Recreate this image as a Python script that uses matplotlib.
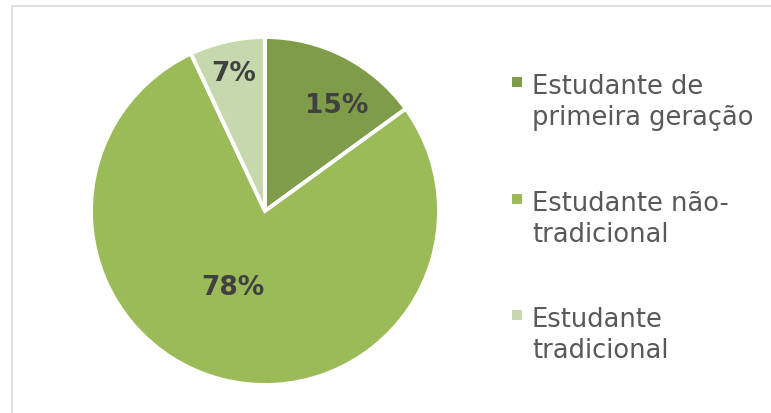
import matplotlib.pyplot as plt
from matplotlib.patches import Rectangle

# data
categories = ["Estudante de\nprimeira geração", "Estudante não-\ntradicional", "Estudante\ntradicional"]
values = [15, 78, 7]
colors = ["#7f9c4a", "#9bbb59", "#c6d8ae"]

plt.rcParams['font.family'] = ['DejaVu Sans']

W, H = 771, 414
fig = plt.figure(figsize=(W / 100, H / 100), dpi=100)

# pie axes: centre (265,212) px, radius 174 px
R = 174
cx, cy = 265, 212
ax = fig.add_axes([(cx - R) / W, (H - cy - R) / H, 2 * R / W, 2 * R / H])
wedges, texts = ax.pie(values, colors=colors, startangle=90, counterclock=False,
                       wedgeprops=dict(edgecolor="white", linewidth=2.8))
ax.set_xlim(-1, 1)
ax.set_ylim(-1, 1)
ax.set_aspect("equal")

# label positions (as placed in the original)
label_pos = [(0.414, 0.609), (-0.184, -0.437), (-0.178, 0.793)]
for v, (x, y) in zip(values, label_pos):
    ax.text(x, y, f"{v}%", ha="center", va="center", fontsize=19,
            fontweight="bold", color="#404040")

# legend drawn by hand so the marker lines up with the first text line
first_base = [93, 210, 326]
line_gap = 32
for lab, col, yb in zip(categories, colors, first_base):
    fig.patches.append(Rectangle((512 / W, (H - yb + 5) / H), 10 / W, 10 / H,
                                 transform=fig.transFigure, facecolor=col,
                                 edgecolor="none"))
    # va='baseline' anchors the last line, so shift down by one line
    fig.text(532 / W, (H - yb - line_gap) / H, lab, ha="left", va="baseline",
             fontsize=18.5, color="#595959", linespacing=1.25)

# chart border (left and top edges visible)
fig.add_artist(plt.Line2D([11.5 / W, 11.5 / W, 1.0], [0, (H - 6.5) / H, (H - 6.5) / H],
                          transform=fig.transFigure, color="#d9d9d9", linewidth=1.2))

fig.savefig("out.png", dpi=100, facecolor="white")
